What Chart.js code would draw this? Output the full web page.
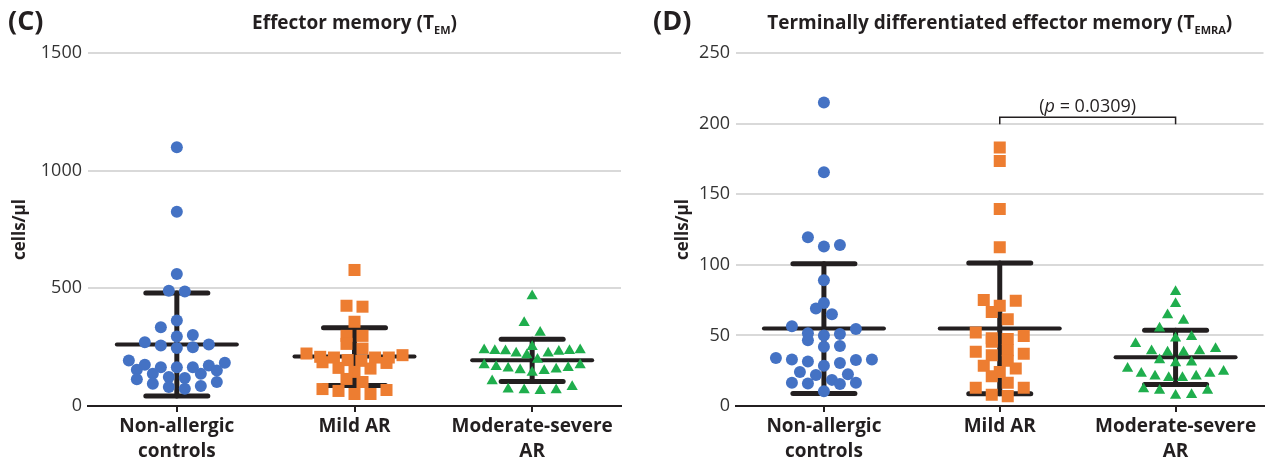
<!DOCTYPE html>
<html>
<head>
<meta charset="utf-8">
<script src="https://cdn.jsdelivr.net/npm/chart.js@4.4.1/dist/chart.umd.min.js"></script>
<style>
  body { margin: 0; background: #fff; }
  .wrap { position: relative; width: 1272px; height: 466px; }
  .panel { position: absolute; top: 0; width: 636px; height: 466px; }
</style>
</head>
<body>
<div class="wrap">
  <div class="panel" style="left:0"><canvas id="chartC" width="636" height="466"></canvas></div>
  <div class="panel" style="left:636px"><canvas id="chartD" width="636" height="466"></canvas></div>
</div>
<script>
// categories on the x axis
const categories = [['Non-allergic', 'controls'], 'Mild AR', ['Moderate-severe', 'AR']];

// (C) effector memory, cells/µl
const temNonAllergic = [1100, 825, 561, 487, 490, 363, 335, 302, 295, 271, 257, 246, 250, 261, 172, 165, 184, 193, 154, 137, 151, 165, 165, 175, 119, 102, 123, 137, 114, 85, 73, 81, 95];
const temMild = [578, 422, 426, 358, 298, 298, 264, 244, 192, 183, 206, 159, 209, 216, 206, 223, 206, 186, 195, 145, 162, 115, 68, 64, 51, 51, 72, 102];
const temModSevere = [467, 354, 312, 235, 232, 224, 238, 238, 252, 234, 235, 224, 198, 217, 163, 156, 150, 174, 174, 153, 160, 167, 142, 82, 68, 65, 68, 71, 106];
const temMean = [261, 210, 194];
const temSd = [219, 123, 90];

// (D) terminally differentiated effector memory, cells/µl
const temraNonAllergic = [215, 165.5, 114, 113, 119.5, 89, 69, 73, 65, 54.5, 56.5, 51, 50, 51.5, 46.5, 42, 42.5, 32.5, 30.5, 33, 34, 31.5, 33, 28.5, 24, 22, 22.5, 16.5, 16, 18.5, 15.5, 16.5, 10.5];
const temraMild = [183, 173.5, 139.5, 112.5, 75, 71, 74.5, 66.5, 61.5, 52, 45.5, 48, 47.5, 49.5, 38.5, 36, 37, 39.5, 32, 28.5, 24, 21, 26.5, 16.5, 13, 7, 8, 13];
const temraModSevere = [81, 72.5, 64.5, 60.5, 55, 48, 49, 44, 39, 38, 38, 39, 40.5, 31, 32.5, 30.5, 26.5, 23, 21, 20, 20, 21, 23, 24.5, 12, 11, 7.5, 8, 11];
const temraMean = [54.8, 54.9, 34.5];
const temraSd = [46, 46.3, 19.2];

// comparison shown in (D)
const pGroups = [1, 2];
const pLevel = 204.5;
const pValue = '0.0309';

const INK = '#231f20';
const FONT = "'Open Sans', sans-serif";
const colors = ['#4472c4', '#ed7d31', '#1fae4d'];
const shapes = ['circle', 'rect', 'triangle'];
const radii = [6, 8.5, 6.5];

function line(ctx, x1, y1, x2, y2) {
    ctx.beginPath();
    ctx.moveTo(x1, y1);
    ctx.lineTo(x2, y2);
    ctx.stroke();
}

// Prism-like scatter: group nearby values into rows, spread each row sideways
function spreadRows(chart) {
    const xs = chart.scales.x, ys = chart.scales.y;
    const unit = xs.getPixelForValue(1) - xs.getPixelForValue(0);
    const rowH = 10, maxStep = 16, maxWidth = 96;
    chart.data.datasets.forEach((ds, i) => {
        const offsets = [];
        const order = ds.values.map((v, k) => k).sort((a, b) => ds.values[a] - ds.values[b]);
        const rows = [];
        let row = null;
        order.forEach(k => {
            const py = ys.getPixelForValue(ds.values[k]);
            if (!row || row.start - py > rowH) {
                row = { start: py, members: [] };
                rows.push(row);
            }
            row.members.push(k);
        });
        rows.forEach(r => {
            const n = r.members.length;
            const step = n > 1 ? Math.min(maxStep, maxWidth / (n - 1)) : 0;
            const slots = [];
            for (let j = 0; j < n; j++) slots.push((j - (n - 1) / 2) * step);
            slots.sort((a, b) => Math.abs(a) - Math.abs(b) || b - a);
            r.members.forEach((k, j) => { offsets[k] = slots[j]; });
        });
        ds.data = ds.values.map((v, k) => ({ x: i + offsets[k] / unit, y: v }));
    });
}

const errorBars = {
    id: 'errorBars',
    beforeDatasetsDraw(chart, args, o) {
        const { ctx, scales: { x, y } } = chart;
        ctx.save();
        ctx.strokeStyle = INK;
        ctx.lineCap = 'round';
        o.means.forEach((m, i) => {
            const cx = x.getPixelForValue(i);
            const top = y.getPixelForValue(m + o.sds[i]);
            const bot = y.getPixelForValue(Math.max(m - o.sds[i], 0));
            const mid = y.getPixelForValue(m);
            ctx.lineWidth = 5;
            line(ctx, cx, top, cx, bot);
            line(ctx, cx - 31, top, cx + 31, top);
            line(ctx, cx - 31, bot, cx + 31, bot);
            ctx.lineWidth = 4;
            line(ctx, cx - 60, mid, cx + 60, mid);
        });
        ctx.restore();
    }
};

const header = {
    id: 'header',
    afterDraw(chart, args, o) {
        const { ctx, chartArea } = chart;
        ctx.save();
        ctx.fillStyle = INK;
        ctx.textBaseline = 'middle';
        ctx.font = `bold 27px ${FONT}`;
        ctx.fillText(o.letter, o.letterX, 22);
        const main = `bold 19px ${FONT}`, small = `bold 11px ${FONT}`;
        ctx.font = main;
        const w1 = ctx.measureText(o.title).width;
        const w3 = ctx.measureText(')').width;
        ctx.font = small;
        const w2 = ctx.measureText(o.sub).width;
        let xx = (chartArea.left + chartArea.right) / 2 - (w1 + w2 + w3) / 2;
        ctx.textBaseline = 'alphabetic';
        ctx.font = main;
        ctx.fillText(o.title, xx, 29);
        xx += w1;
        ctx.font = small;
        ctx.fillText(o.sub, xx, 34);
        xx += w2;
        ctx.font = main;
        ctx.fillText(')', xx, 29);
        ctx.restore();
    }
};

const bracket = {
    id: 'bracket',
    afterDatasetsDraw(chart, args, o) {
        if (!o.groups) return;
        const { ctx, scales: { x, y } } = chart;
        const x1 = x.getPixelForValue(o.groups[0]);
        const x2 = x.getPixelForValue(o.groups[1]);
        const yl = y.getPixelForValue(o.level);
        const yt = y.getPixelForValue(o.level - o.drop);
        ctx.save();
        ctx.strokeStyle = INK;
        ctx.lineWidth = 1.5;
        ctx.beginPath();
        ctx.moveTo(x1, yt);
        ctx.lineTo(x1, yl);
        ctx.lineTo(x2, yl);
        ctx.lineTo(x2, yt);
        ctx.stroke();
        const parts = [['(', ''], ['p', 'italic '], [' = ' + o.text + ')', '']];
        let total = 0;
        parts.forEach(p => { ctx.font = `${p[1]}18px ${FONT}`; total += ctx.measureText(p[0]).width; });
        let xx = (x1 + x2) / 2 - total / 2;
        ctx.fillStyle = INK;
        ctx.textBaseline = 'alphabetic';
        parts.forEach(p => {
            ctx.font = `${p[1]}18px ${FONT}`;
            ctx.fillText(p[0], xx, yl - 5);
            xx += ctx.measureText(p[0]).width;
        });
        ctx.restore();
    }
};

function makeChart(id, cfg) {
    const chart = new Chart(document.getElementById(id), {
        type: 'scatter',
        data: {
            datasets: cfg.groups.map((vals, i) => ({
                values: vals,
                data: vals.map(v => ({ x: i, y: v })),
                pointStyle: shapes[i],
                pointRadius: radii[i],
                pointHoverRadius: radii[i],
                backgroundColor: colors[i],
                borderColor: colors[i],
                borderWidth: 0
            }))
        },
        options: {
            responsive: false,
            animation: false,
            devicePixelRatio: 1,
            layout: { padding: { left: cfg.padLeft, right: cfg.padRight, top: 53, bottom: 0 } },
            scales: {
                x: {
                    type: 'linear',
                    min: -0.5,
                    max: 2.5,
                    afterBuildTicks: s => { s.ticks = categories.map((c, i) => ({ value: i })); },
                    afterFit: s => { s.height = 60; },
                    ticks: {
                        callback: v => categories[v],
                        font: { family: FONT, size: 19, weight: 'bold', lineHeight: '25px' },
                        color: INK,
                        padding: 2,
                        maxRotation: 0,
                        autoSkip: false
                    },
                    grid: { drawOnChartArea: false, drawTicks: true, tickLength: 6, color: INK, lineWidth: 2 },
                    border: { display: true, color: INK, width: 2 }
                },
                y: {
                    min: 0,
                    max: cfg.max,
                    afterFit: s => { s.width = cfg.yWidth; },
                    ticks: {
                        stepSize: cfg.step,
                        callback: v => String(v),
                        font: { family: FONT, size: 18 },
                        color: '#333',
                        padding: 6
                    },
                    grid: { color: '#d9d9d9', lineWidth: 2, drawTicks: false },
                    border: { display: false },
                    title: {
                        display: true,
                        text: 'cells/µl',
                        font: { family: FONT, size: 17, weight: 'bold' },
                        color: INK,
                        padding: { top: 10, bottom: 0 }
                    }
                }
            },
            plugins: {
                legend: { display: false },
                tooltip: { enabled: false },
                errorBars: { means: cfg.means, sds: cfg.sds },
                header: cfg.header,
                bracket: cfg.bracket || {}
            }
        },
        plugins: [errorBars, header, bracket]
    });
    spreadRows(chart);
    chart.update('none');
    return chart;
}

makeChart('chartC', {
    groups: [temNonAllergic, temMild, temModSevere],
    means: temMean,
    sds: temSd,
    max: 1500,
    step: 500,
    padLeft: 0,
    padRight: 15,
    yWidth: 88,
    header: { letter: '(C)', letterX: 8, title: 'Effector memory (T', sub: 'EM' }
});

makeChart('chartD', {
    groups: [temraNonAllergic, temraMild, temraModSevere],
    means: temraMean,
    sds: temraSd,
    max: 250,
    step: 50,
    padLeft: 27,
    padRight: 1,
    yWidth: 73,
    header: { letter: '(D)', letterX: 17, title: 'Terminally differentiated effector memory (T', sub: 'EMRA' },
    bracket: { groups: pGroups, level: pLevel, drop: 5, text: pValue }
});
</script>
</body>
</html>
